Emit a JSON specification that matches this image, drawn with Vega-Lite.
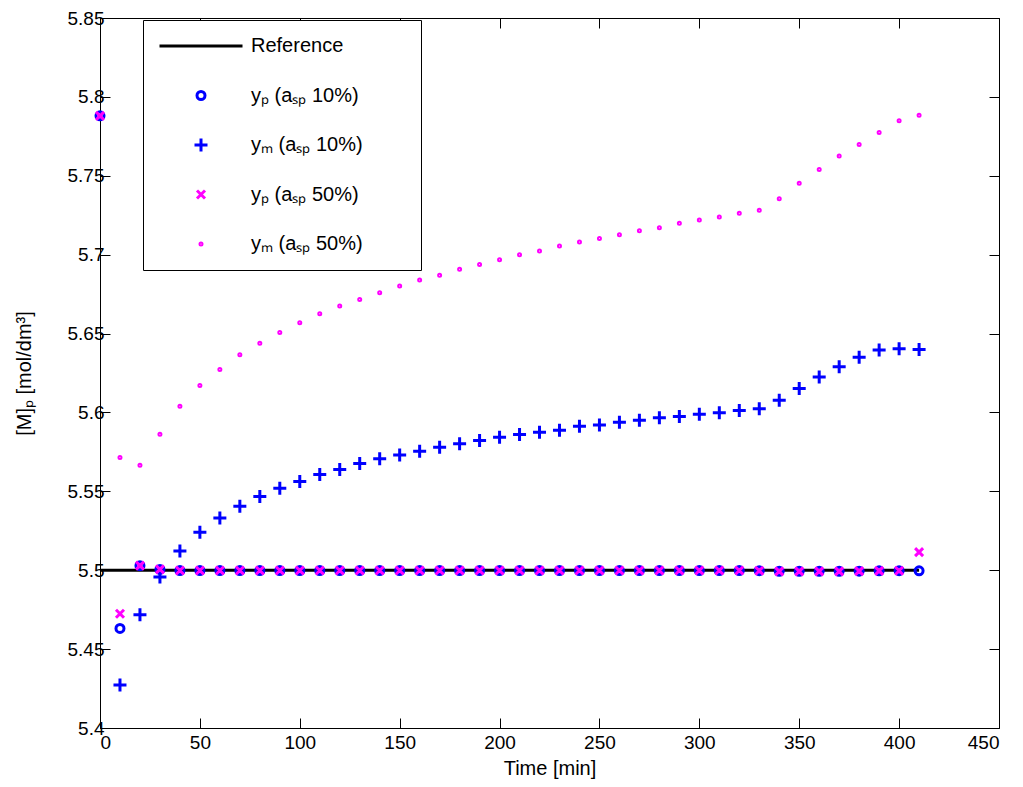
{
  "$schema": "https://vega.github.io/schema/vega-lite/v6.json",
  "width": 899,
  "height": 710,
  "autosize": "none",
  "padding": {"left": 100, "top": 18, "right": 24, "bottom": 59},
  "background": "white",
  "config": {
    "view": {"stroke": null},
    "font": "Liberation Sans",
    "axis": {
      "grid": false,
      "domainColor": "black",
      "tickColor": "black",
      "labelColor": "black",
      "titleColor": "black",
      "labelFont": "Liberation Sans",
      "labelFontSize": 19,
      "titleFont": "Liberation Sans",
      "titleFontSize": 20,
      "titleFontWeight": "normal",
      "tickSize": -10,
      "domainWidth": 1,
      "tickWidth": 1
    }
  },
  "data": {
    "values": [
      {"t": 0, "v": 5.5, "s": "R"}, {"t": 410, "v": 5.5, "s": "R"},
      {"t": 0, "v": 5.788, "s": "p10"}, {"t": 10, "v": 5.4631, "s": "p10"}, {"t": 20, "v": 5.5029, "s": "p10"}, {"t": 30, "v": 5.5005, "s": "p10"},
      {"t": 40, "v": 5.4998, "s": "p10"}, {"t": 50, "v": 5.4998, "s": "p10"}, {"t": 60, "v": 5.4998, "s": "p10"}, {"t": 70, "v": 5.4998, "s": "p10"},
      {"t": 80, "v": 5.4998, "s": "p10"}, {"t": 90, "v": 5.4998, "s": "p10"}, {"t": 100, "v": 5.4998, "s": "p10"}, {"t": 110, "v": 5.4998, "s": "p10"},
      {"t": 120, "v": 5.4998, "s": "p10"}, {"t": 130, "v": 5.4998, "s": "p10"}, {"t": 140, "v": 5.4998, "s": "p10"}, {"t": 150, "v": 5.4998, "s": "p10"},
      {"t": 160, "v": 5.4998, "s": "p10"}, {"t": 170, "v": 5.4998, "s": "p10"}, {"t": 180, "v": 5.4998, "s": "p10"}, {"t": 190, "v": 5.4998, "s": "p10"},
      {"t": 200, "v": 5.4998, "s": "p10"}, {"t": 210, "v": 5.4998, "s": "p10"}, {"t": 220, "v": 5.4998, "s": "p10"}, {"t": 230, "v": 5.4998, "s": "p10"},
      {"t": 240, "v": 5.4998, "s": "p10"}, {"t": 250, "v": 5.4998, "s": "p10"}, {"t": 260, "v": 5.4998, "s": "p10"}, {"t": 270, "v": 5.4998, "s": "p10"},
      {"t": 280, "v": 5.4998, "s": "p10"}, {"t": 290, "v": 5.4998, "s": "p10"}, {"t": 300, "v": 5.4998, "s": "p10"}, {"t": 310, "v": 5.4998, "s": "p10"},
      {"t": 320, "v": 5.4998, "s": "p10"}, {"t": 330, "v": 5.4997, "s": "p10"}, {"t": 340, "v": 5.4993, "s": "p10"}, {"t": 350, "v": 5.4993, "s": "p10"},
      {"t": 360, "v": 5.4993, "s": "p10"}, {"t": 370, "v": 5.4993, "s": "p10"}, {"t": 380, "v": 5.4994, "s": "p10"}, {"t": 390, "v": 5.4996, "s": "p10"},
      {"t": 400, "v": 5.4997, "s": "p10"}, {"t": 410, "v": 5.4996, "s": "p10"},
      {"t": 10, "v": 5.4273, "s": "m10"}, {"t": 20, "v": 5.4718, "s": "m10"}, {"t": 30, "v": 5.4957, "s": "m10"}, {"t": 40, "v": 5.5122, "s": "m10"},
      {"t": 50, "v": 5.524, "s": "m10"}, {"t": 60, "v": 5.5331, "s": "m10"}, {"t": 70, "v": 5.5405, "s": "m10"}, {"t": 80, "v": 5.5468, "s": "m10"},
      {"t": 90, "v": 5.552, "s": "m10"}, {"t": 100, "v": 5.5563, "s": "m10"}, {"t": 110, "v": 5.5606, "s": "m10"}, {"t": 120, "v": 5.5638, "s": "m10"},
      {"t": 130, "v": 5.5676, "s": "m10"}, {"t": 140, "v": 5.5706, "s": "m10"}, {"t": 150, "v": 5.5731, "s": "m10"}, {"t": 160, "v": 5.5754, "s": "m10"},
      {"t": 170, "v": 5.5779, "s": "m10"}, {"t": 180, "v": 5.5801, "s": "m10"}, {"t": 190, "v": 5.5822, "s": "m10"}, {"t": 200, "v": 5.5843, "s": "m10"},
      {"t": 210, "v": 5.586, "s": "m10"}, {"t": 220, "v": 5.5874, "s": "m10"}, {"t": 230, "v": 5.5887, "s": "m10"}, {"t": 240, "v": 5.5912, "s": "m10"},
      {"t": 250, "v": 5.5921, "s": "m10"}, {"t": 260, "v": 5.5938, "s": "m10"}, {"t": 270, "v": 5.595, "s": "m10"}, {"t": 280, "v": 5.5966, "s": "m10"},
      {"t": 290, "v": 5.5975, "s": "m10"}, {"t": 300, "v": 5.5988, "s": "m10"}, {"t": 310, "v": 5.5998, "s": "m10"}, {"t": 320, "v": 5.6012, "s": "m10"},
      {"t": 330, "v": 5.6023, "s": "m10"}, {"t": 340, "v": 5.6077, "s": "m10"}, {"t": 350, "v": 5.6152, "s": "m10"}, {"t": 360, "v": 5.6225, "s": "m10"},
      {"t": 370, "v": 5.6289, "s": "m10"}, {"t": 380, "v": 5.635, "s": "m10"}, {"t": 390, "v": 5.6395, "s": "m10"}, {"t": 400, "v": 5.6404, "s": "m10"},
      {"t": 410, "v": 5.6399, "s": "m10"},
      {"t": 0, "v": 5.788, "s": "p50"}, {"t": 10, "v": 5.4724, "s": "p50"}, {"t": 20, "v": 5.5029, "s": "p50"}, {"t": 30, "v": 5.5005, "s": "p50"},
      {"t": 40, "v": 5.4998, "s": "p50"}, {"t": 50, "v": 5.4998, "s": "p50"}, {"t": 60, "v": 5.4998, "s": "p50"}, {"t": 70, "v": 5.4998, "s": "p50"},
      {"t": 80, "v": 5.4998, "s": "p50"}, {"t": 90, "v": 5.4998, "s": "p50"}, {"t": 100, "v": 5.4998, "s": "p50"}, {"t": 110, "v": 5.4998, "s": "p50"},
      {"t": 120, "v": 5.4998, "s": "p50"}, {"t": 130, "v": 5.4998, "s": "p50"}, {"t": 140, "v": 5.4998, "s": "p50"}, {"t": 150, "v": 5.4998, "s": "p50"},
      {"t": 160, "v": 5.4998, "s": "p50"}, {"t": 170, "v": 5.4998, "s": "p50"}, {"t": 180, "v": 5.4998, "s": "p50"}, {"t": 190, "v": 5.4998, "s": "p50"},
      {"t": 200, "v": 5.4998, "s": "p50"}, {"t": 210, "v": 5.4998, "s": "p50"}, {"t": 220, "v": 5.4998, "s": "p50"}, {"t": 230, "v": 5.4998, "s": "p50"},
      {"t": 240, "v": 5.4998, "s": "p50"}, {"t": 250, "v": 5.4998, "s": "p50"}, {"t": 260, "v": 5.4998, "s": "p50"}, {"t": 270, "v": 5.4998, "s": "p50"},
      {"t": 280, "v": 5.4998, "s": "p50"}, {"t": 290, "v": 5.4998, "s": "p50"}, {"t": 300, "v": 5.4998, "s": "p50"}, {"t": 310, "v": 5.4998, "s": "p50"},
      {"t": 320, "v": 5.4998, "s": "p50"}, {"t": 330, "v": 5.4997, "s": "p50"}, {"t": 340, "v": 5.4993, "s": "p50"}, {"t": 350, "v": 5.4993, "s": "p50"},
      {"t": 360, "v": 5.4993, "s": "p50"}, {"t": 370, "v": 5.4993, "s": "p50"}, {"t": 380, "v": 5.4994, "s": "p50"}, {"t": 390, "v": 5.4996, "s": "p50"},
      {"t": 400, "v": 5.4997, "s": "p50"}, {"t": 410, "v": 5.5115, "s": "p50"},
      {"t": 10, "v": 5.5714, "s": "m50"}, {"t": 20, "v": 5.5665, "s": "m50"}, {"t": 30, "v": 5.5862, "s": "m50"}, {"t": 40, "v": 5.6039, "s": "m50"},
      {"t": 50, "v": 5.6171, "s": "m50"}, {"t": 60, "v": 5.6272, "s": "m50"}, {"t": 70, "v": 5.6366, "s": "m50"}, {"t": 80, "v": 5.6439, "s": "m50"},
      {"t": 90, "v": 5.6507, "s": "m50"}, {"t": 100, "v": 5.6568, "s": "m50"}, {"t": 110, "v": 5.6626, "s": "m50"}, {"t": 120, "v": 5.6674, "s": "m50"},
      {"t": 130, "v": 5.6716, "s": "m50"}, {"t": 140, "v": 5.6759, "s": "m50"}, {"t": 150, "v": 5.6801, "s": "m50"}, {"t": 160, "v": 5.6839, "s": "m50"},
      {"t": 170, "v": 5.6869, "s": "m50"}, {"t": 180, "v": 5.6907, "s": "m50"}, {"t": 190, "v": 5.6937, "s": "m50"}, {"t": 200, "v": 5.6968, "s": "m50"},
      {"t": 210, "v": 5.7, "s": "m50"}, {"t": 220, "v": 5.7023, "s": "m50"}, {"t": 230, "v": 5.7055, "s": "m50"}, {"t": 240, "v": 5.708, "s": "m50"},
      {"t": 250, "v": 5.7103, "s": "m50"}, {"t": 260, "v": 5.7127, "s": "m50"}, {"t": 270, "v": 5.7152, "s": "m50"}, {"t": 280, "v": 5.7171, "s": "m50"},
      {"t": 290, "v": 5.7199, "s": "m50"}, {"t": 300, "v": 5.722, "s": "m50"}, {"t": 310, "v": 5.7239, "s": "m50"}, {"t": 320, "v": 5.7262, "s": "m50"},
      {"t": 330, "v": 5.7281, "s": "m50"}, {"t": 340, "v": 5.7355, "s": "m50"}, {"t": 350, "v": 5.7452, "s": "m50"}, {"t": 360, "v": 5.7539, "s": "m50"},
      {"t": 370, "v": 5.7626, "s": "m50"}, {"t": 380, "v": 5.7698, "s": "m50"}, {"t": 390, "v": 5.7774, "s": "m50"}, {"t": 400, "v": 5.7848, "s": "m50"},
      {"t": 410, "v": 5.7884, "s": "m50"}
    ]
  },
  "layer": [
    {
      "transform": [{"filter": "datum.s === 'R'"}],
      "mark": {"type": "line", "color": "black", "strokeWidth": 3},
      "encoding": {
        "x": {"field": "t", "type": "quantitative", "scale": {"domain": [0, 450], "nice": false},
              "axis": {"orient": "bottom", "values": [0, 50, 100, 150, 200, 250, 300, 350, 400, 450], "title": "Time [min]", "labelPadding": 15, "titlePadding": 6}},
        "y": {"field": "v", "type": "quantitative", "scale": {"domain": [5.4, 5.85], "nice": false, "zero": false},
              "axis": {"orient": "left", "values": [5.4, 5.45, 5.5, 5.55, 5.6, 5.65, 5.7, 5.75, 5.8, 5.85], "format": ".2~f", "title": "[M]ₚ [mol/dm³]", "labelPadding": 6, "titlePadding": 33}}
      }
    },
    {
      "transform": [{"filter": "datum.s !== 'R'"}],
      "mark": {"type": "point", "filled": false, "strokeWidth": 3, "opacity": 1},
      "encoding": {
        "x": {"field": "t", "type": "quantitative", "scale": {"domain": [0, 450], "nice": false},
              "axis": {"orient": "top", "values": [0, 50, 100, 150, 200, 250, 300, 350, 400, 450], "labels": false, "title": null}},
        "y": {"field": "v", "type": "quantitative", "scale": {"domain": [5.4, 5.85], "nice": false, "zero": false},
              "axis": {"orient": "right", "values": [5.4, 5.45, 5.5, 5.55, 5.6, 5.65, 5.7, 5.75, 5.8, 5.85], "labels": false, "title": null}},
        "color": {"field": "s", "type": "nominal",
                  "scale": {"domain": ["R", "p10", "m10", "p50", "m50"], "range": ["#000000", "#0000ff", "#0000ff", "#ff00ff", "#ff00ff"]},
                  "legend": {"orient": "none", "legendX": 43, "legendY": 2, "title": null, "padding": 15, "strokeColor": "black", "fillColor": "white",
                             "labelFont": "Liberation Sans", "labelFontSize": 20, "labelColor": "black", "labelOffset": 7, "rowPadding": 27.5,
                             "clipHeight": 22, "symbolStrokeWidth": 3, "labelLimit": 300,
                             "labelExpr": "datum.label === 'R' ? 'Reference' : datum.label === 'p10' ? 'yₚ (aₛₚ 10%)' : datum.label === 'm10' ? 'yₘ (aₛₚ 10%)\u00a0\u00a0\u00a0\u00a0\u00a0\u2800' : datum.label === 'p50' ? 'yₚ (aₛₚ 50%)' : 'yₘ (aₛₚ 50%)'"}},
        "shape": {"field": "s", "type": "nominal",
                  "scale": {"domain": ["R", "p10", "m10", "p50", "m50"], "range": ["M-1,0L1,0", "circle", "M-1,0L1,0M0,-1L0,1", "M-1,-1L1,1M-1,1L1,-1", "circle"]}},
        "size": {"field": "s", "type": "nominal",
                 "scale": {"type": "ordinal", "domain": ["R", "p10", "m10", "p50", "m50"], "range": [6889, 64, 169, 64, 4]}}
      }
    }
  ],
  "resolve": {"axis": {"x": "independent", "y": "independent"}}
}
